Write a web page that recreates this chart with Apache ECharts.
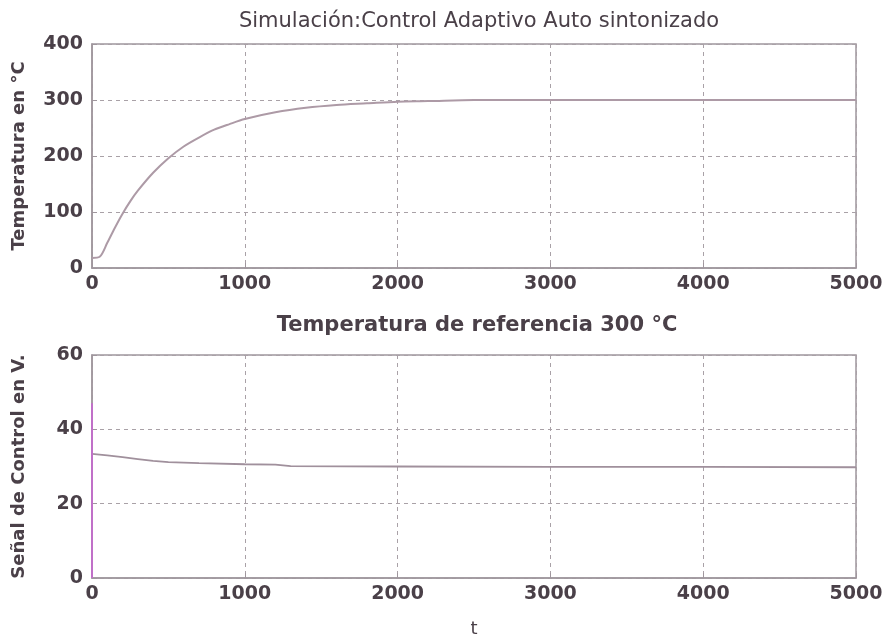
<!DOCTYPE html>
<html><head><meta charset="utf-8">
<script src="https://cdn.jsdelivr.net/npm/echarts@6/dist/echarts.min.js"></script>
<style>html,body{margin:0;padding:0;background:#fff}#c{width:886px;height:643px}</style>
</head><body><div id="c"></div>
<script>
// Top plot: temperature response
const tempT = [0, 50, 100, 150, 200, 250, 300, 400, 500, 600, 700, 800, 900, 1000, 1200, 1400, 1600, 1800, 2000, 2200, 2500, 3000, 4000, 5000];
const tempV = [18, 20, 45, 72, 97, 119, 138, 170, 196, 217, 233, 247, 257, 266, 278, 286, 291, 294, 297, 298, 300, 300, 300, 300];
// Bottom plot: control signal
const ctrlT = [0, 100, 200, 300, 400, 500, 700, 1000, 1200, 1300, 2000, 3000, 4000, 5000];
const ctrlV = [33.4, 33, 32.5, 32, 31.5, 31.2, 30.9, 30.6, 30.5, 30.1, 30, 29.9, 29.9, 29.8];
const spikeT = [0, 0, 0];
const spikeV = [0, 47, 33.4];
const xTicks = [0, 1000, 2000, 3000, 4000, 5000];
const topTicks = [0, 100, 200, 300, 400];
const botTicks = [0, 20, 40, 60];

const txt = '#4a4048', ax = '#9f969d', gridc = '#a9a1a7';
const font = 'DejaVu Sans';
const zip = (a, b) => a.map((v, i) => [v, b[i]]);

function xAxis(idx) {
  return {
    gridIndex: idx, type: 'value', min: xTicks[0], max: xTicks[xTicks.length - 1], interval: xTicks[1] - xTicks[0],
    axisLine: {show: true, lineStyle: {color: ax, width: 1.5}},
    axisTick: {show: true, inside: true, length: 5, lineStyle: {color: ax}},
    axisLabel: {color: txt, fontFamily: font, fontWeight: 'bold', fontSize: 19, margin: 7, formatter: v => String(v)},
    splitLine: {show: true, lineStyle: {color: gridc, type: [4, 4], width: 1}},
    name: idx === 1 ? 't' : '', nameLocation: 'middle', nameGap: 42,
    nameTextStyle: {color: txt, fontFamily: font, fontSize: 18}
  };
}
function yAxis(idx, ticks, name) {
  return {
    gridIndex: idx, type: 'value', min: ticks[0], max: ticks[ticks.length - 1], interval: ticks[1] - ticks[0],
    axisLine: {show: true, lineStyle: {color: ax, width: 1.5}},
    axisTick: {show: true, inside: true, length: 5, lineStyle: {color: ax}},
    axisLabel: {color: txt, fontFamily: font, fontWeight: 'bold', fontSize: 19, margin: 9, formatter: v => String(v)},
    splitLine: {show: true, lineStyle: {color: gridc, type: [4, 4], width: 1}},
    name: name, nameLocation: 'middle', nameGap: 64,
    nameTextStyle: {color: txt, fontFamily: font, fontWeight: 'bold', fontSize: 18}
  };
}

const chart = echarts.init(document.getElementById('c'), null, {renderer: 'canvas'});
chart.setOption({
  animation: false,
  backgroundColor: '#fff',
  title: [
    {text: 'Simulación:Control Adaptivo Auto sintonizado', left: 474, top: 6, textAlign: 'center',
     textStyle: {color: txt, fontFamily: font, fontWeight: 'normal', fontSize: 21}},
    {text: 'Temperatura de referencia 300 °C', left: 472, top: 310, textAlign: 'center',
     textStyle: {color: txt, fontFamily: font, fontWeight: 'bold', fontSize: 21}}
  ],
  grid: [
    {left: 92, top: 44, width: 764, height: 224, show: true, borderColor: ax, borderWidth: 1.5, backgroundColor: 'transparent'},
    {left: 92, top: 355, width: 764, height: 223, show: true, borderColor: ax, borderWidth: 1.5, backgroundColor: 'transparent'}
  ],
  xAxis: [xAxis(0), xAxis(1)],
  yAxis: [yAxis(0, topTicks, 'Temperatura en °C'), yAxis(1, botTicks, 'Señal de Control en V.')],
  series: [
    {type: 'line', xAxisIndex: 0, yAxisIndex: 0, data: zip(tempT, tempV), smooth: 0.3, showSymbol: false,
     lineStyle: {color: '#ad9aa6', width: 2}},
    {type: 'line', xAxisIndex: 1, yAxisIndex: 1, data: zip(ctrlT, ctrlV), showSymbol: false,
     lineStyle: {color: '#a0909c', width: 1.8}},
    {type: 'line', xAxisIndex: 1, yAxisIndex: 1, data: zip(spikeT, spikeV), showSymbol: false,
     lineStyle: {color: '#c070c8', width: 2}}
  ]
});
</script></body></html>
